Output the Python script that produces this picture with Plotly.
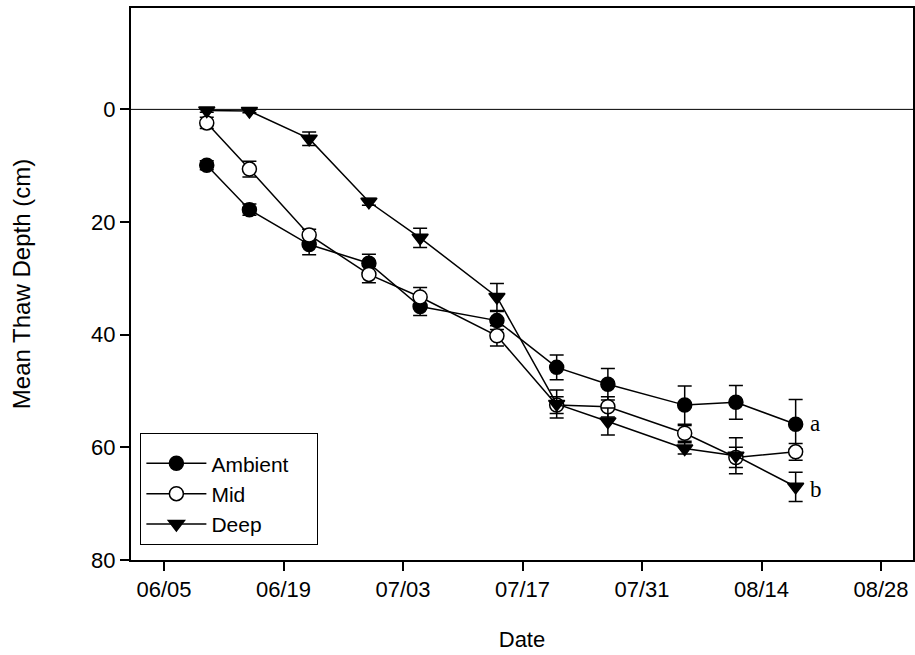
import plotly.graph_objects as go

dates = ["2000-06-10", "2000-06-15", "2000-06-22", "2000-06-29", "2000-07-05",
         "2000-07-14", "2000-07-21", "2000-07-27", "2000-08-05", "2000-08-11", "2000-08-18"]

ambient = [9.9, 17.8, 24.0, 27.3, 35.0, 37.5, 45.8, 48.8, 52.5, 52.0, 55.9]
ambient_err = [0.8, 1.0, 1.8, 1.6, 1.6, 1.6, 2.2, 2.8, 3.4, 3.0, 4.4]

mid = [2.4, 10.6, 22.3, 29.3, 33.3, 40.2, 52.5, 52.8, 57.5, 61.8, 60.8]
mid_err = [1.0, 1.4, 1.0, 1.5, 1.7, 1.8, 1.5, 1.8, 1.4, 1.8, 1.5]

deep = [0.2, 0.3, 5.2, 16.4, 22.8, 33.3, 52.3, 55.4, 60.2, 61.5, 67.0]
deep_err = [0.3, 0.3, 1.2, 0.6, 1.7, 2.4, 2.5, 2.4, 1.0, 3.2, 2.6]

series_names = ["Ambient", "Mid", "Deep"]
tick_dates = ["2000-06-05", "2000-06-19", "2000-07-03", "2000-07-17",
              "2000-07-31", "2000-08-14", "2000-08-28"]
tick_labels = ["06/05", "06/19", "07/03", "07/17", "07/31", "08/14", "08/28"]
y_ticks = [0, 20, 40, 60, 80]
sig_labels = ["a", "b"]

fig = go.Figure()

styles = [
    dict(symbol="circle", color="black"),
    dict(symbol="circle", color="white"),
    dict(symbol="triangle-down", color="black"),
]
data = [(ambient, ambient_err), (mid, mid_err), (deep, deep_err)]

for name, (vals, errs), st in zip(series_names, data, styles):
    fig.add_trace(go.Scatter(
        x=dates, y=vals, name=name, mode="lines+markers",
        line=dict(color="black", width=1.5),
        marker=dict(symbol=st["symbol"], size=14,
                    color=st["color"], line=dict(color="black", width=1.5)),
        error_y=dict(type="data", array=errs, visible=True, color="black",
                     thickness=1.5, width=7),
    ))

fig.add_hline(y=0, line=dict(color="black", width=1))

fig.add_annotation(x=dates[-1], y=ambient[-1], text=sig_labels[0], showarrow=False,
                   xanchor="left", xshift=12, yshift=1,
                   font=dict(family="Liberation Serif, Times New Roman, serif", size=23, color="black"))
fig.add_annotation(x=dates[-1], y=deep[-1], text=sig_labels[1], showarrow=False,
                   xanchor="left", xshift=12, yshift=-3,
                   font=dict(family="Liberation Serif, Times New Roman, serif", size=23, color="black"))

fig.update_layout(
    width=915, height=655,
    margin=dict(l=131, r=0, t=8, b=95),
    paper_bgcolor="white", plot_bgcolor="white",
    font=dict(family="Liberation Sans, Arial, sans-serif", color="black", size=21),
    showlegend=True,
    legend=dict(x=0.012, y=0.027, xanchor="left", yanchor="bottom",
                bordercolor="black", borderwidth=1, bgcolor="white",
                font=dict(size=21), itemwidth=60, tracegroupgap=0,
                title=dict(text="\u00a0" * 88, font=dict(size=7))),
)

fig.update_xaxes(
    type="date", range=["2000-06-01 03:00", "2000-08-31 18:00"],
    tickvals=tick_dates, ticktext=tick_labels,
    ticks="outside", ticklen=9, tickwidth=1.5, tickcolor="black",
    showline=True, linecolor="black", linewidth=2, mirror=True,
    showgrid=False, zeroline=False,
    title=dict(text="Date", font=dict(size=22), standoff=30),
    tickfont=dict(size=22),
)
fig.update_yaxes(
    range=[80, -18], tickvals=y_ticks,
    ticks="outside", ticklen=9, tickwidth=1.5, tickcolor="black",
    showline=True, linecolor="black", linewidth=2, mirror=True,
    showgrid=False, zeroline=False,
    title=dict(text="Mean Thaw Depth (cm)", font=dict(size=24), standoff=54),
    tickfont=dict(size=22),
)

fig.write_html("out.html")
